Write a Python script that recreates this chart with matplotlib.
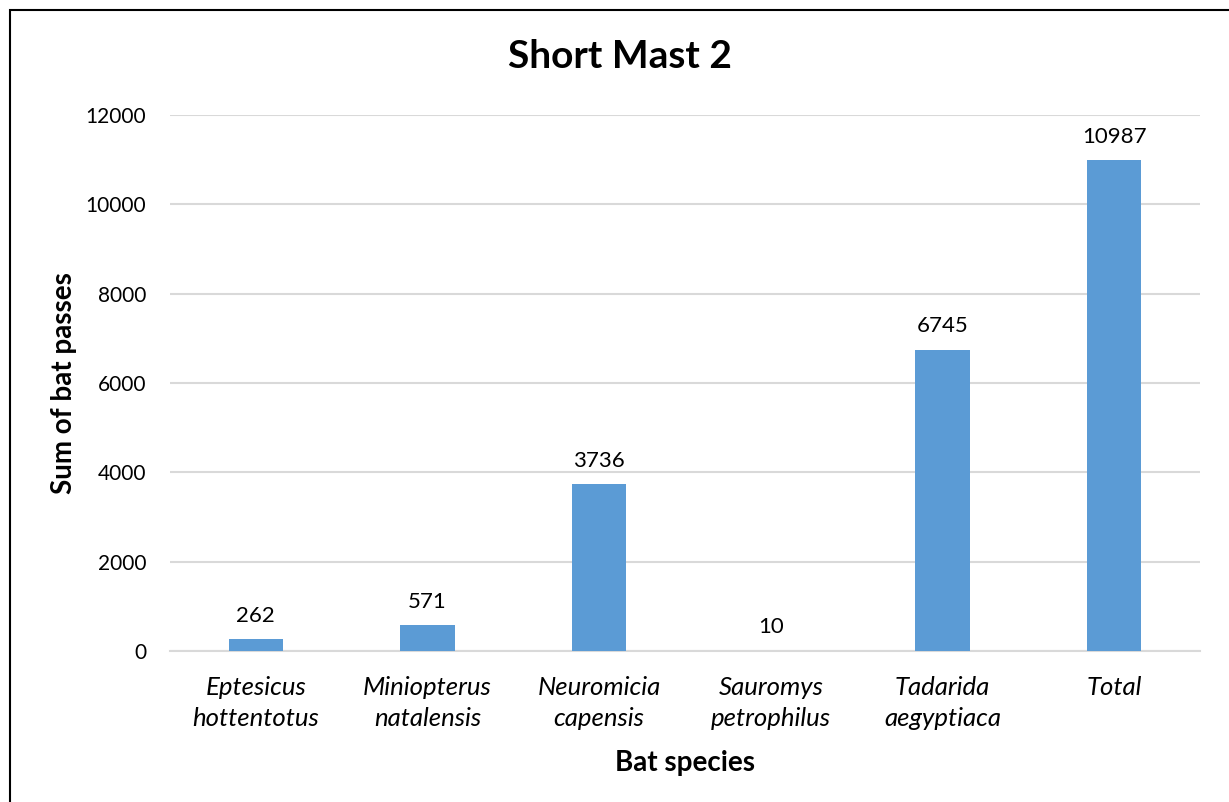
import matplotlib

matplotlib.use('agg')
import matplotlib.pyplot as plt
from matplotlib.patches import Rectangle

species = ["Eptesicus\nhottentotus", "Miniopterus\nnatalensis", "Neuromicia\ncapensis",
           "Sauromys\npetrophilus", "Tadarida\naegyptiaca", "Total"]
passes = [262, 571, 3736, 10, 6745, 10987]
yticks = [0, 2000, 4000, 6000, 8000, 10000, 12000]

plt.rcParams['font.family'] = ['Lato', 'DejaVu Sans']

fig = plt.figure(figsize=(12.29, 8.02), dpi=100)
ax = fig.add_axes([0.1383, 0.1883, 0.8381, 0.6683])

x = range(len(species))
bars = ax.bar(x, passes, width=0.315, color='#5b9bd5', zorder=3)
for rect, v in zip(bars, passes):
    ax.text(rect.get_x() + rect.get_width() / 2, v + 300, str(v),
            ha='center', va='bottom', fontsize=16, color='#000000')

ax.set_xlim(-0.5, len(species) - 0.5)
ax.set_ylim(0, 12000)
ax.set_yticks(yticks)
ax.set_yticklabels([str(t) for t in yticks], fontsize=15)
ax.set_xticks(list(x))
ax.set_xticklabels(species, fontsize=18.5, style='italic', linespacing=1.4)
ax.tick_params(length=0)
ax.tick_params(axis='y', pad=17)
ax.tick_params(axis='x', pad=18)
ax.grid(axis='y', color='#d9d9d9', linewidth=1.5, zorder=0)
for s in ['top', 'right', 'left']:
    ax.spines[s].set_visible(False)
ax.spines['bottom'].set_color('#d9d9d9')
ax.spines['bottom'].set_linewidth(1.5)

ax.set_xlabel("Bat species", fontsize=20, fontweight='bold', labelpad=15)
ax.set_ylabel("Sum of bat passes", fontsize=20, fontweight='bold', labelpad=6)
fig.text(0.5045, 0.929, "Short Mast 2", ha='center', va='center',
         fontsize=28, fontweight='bold')

# outer chart border
fig.patches.append(Rectangle((0.0085, -0.05), 1.1, 1.0375, transform=fig.transFigure,
                             fill=False, edgecolor='black', linewidth=1.5))

plt.savefig('out.png', dpi=100)
